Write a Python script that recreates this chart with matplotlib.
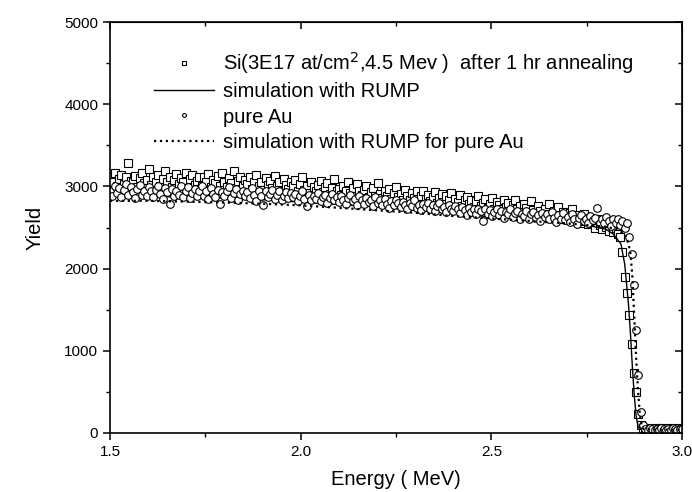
import matplotlib
matplotlib.use("Agg")
import matplotlib.pyplot as plt
import numpy as np
from matplotlib.ticker import MultipleLocator

plt.rcParams['font.family'] = ['Liberation Sans', 'DejaVu Sans']

# channel energies (MeV), linear calibration of the spectrum
energy = np.round(1.5 + 0.006 * np.arange(251), 3)

# Si implanted sample after annealing (squares)
si_yield = [
    3120, 3050, 3160, 3010, 3090, 3140, 3030, 3110, 3280, 3070,
    3060, 3130, 2990, 3100, 3170, 3040, 3080, 3210, 3020, 3110,
    3050, 3140, 3000, 3090, 3190, 3060, 3120, 2990, 3080, 3150,
    3030, 3100, 3060, 3170, 2980, 3090, 3140, 3020, 3070, 3120,
    3000, 3110, 3050, 3150, 2990, 3080, 3040, 3130, 3010, 3170,
    3060, 2990, 3100, 3040, 3190, 2980, 3070, 3120, 3010, 3080,
    3030, 3110, 2970, 3050, 3140, 3000, 3060, 2960, 3100, 3020,
    3070, 2980, 3130, 3010, 3050, 2950, 3090, 3020, 2970, 3060,
    3000, 3080, 2940, 3030, 3110, 2960, 3010, 2920, 3050, 2990,
    2950, 3020, 3070, 2930, 2990, 3040, 2910, 2980, 3090, 2940,
    2970, 2900, 3010, 2950, 3060, 2920, 2980, 2890, 3030, 2940,
    2900, 2960, 3000, 2870, 2930, 2980, 2880, 3040, 2910, 2860,
    2940, 2890, 2970, 2850, 2920, 2990, 2870, 2910, 2840, 2960,
    2880, 2830, 2920, 2860, 2950, 2810, 2890, 2940, 2850, 2900,
    2820, 2870, 2930, 2800, 2860, 2910, 2790, 2880, 2840, 2920,
    2780, 2850, 2810, 2900, 2760, 2830, 2870, 2790, 2840, 2750,
    2820, 2880, 2760, 2800, 2850, 2740, 2790, 2860, 2730, 2810,
    2770, 2720, 2840, 2750, 2800, 2700, 2780, 2830, 2720, 2760,
    2690, 2790, 2740, 2680, 2820, 2710, 2650, 2760, 2700, 2640,
    2730, 2670, 2790, 2620, 2700, 2660, 2750, 2610, 2690, 2640,
    2600, 2680, 2720, 2580, 2650, 2610, 2560, 2670, 2590, 2540,
    2620, 2560, 2500, 2600, 2530, 2480, 2580, 2510, 2460, 2550,
    2450, 2500, 2420, 2380, 2200, 1900, 1700, 1430, 1080, 730,
    500, 230, 100, 60, 45, 55, 40, 50, 35, 55,
    45, 60, 40, 50, 55, 35, 50, 45, 60, 40, 50,
]

# pure Au reference (circles)
au_yield = [
    2950, 2890, 3010, 2920, 2980, 2870, 2960, 3030, 2900, 2990,
    2930, 2860, 2970, 3020, 2900, 2950, 2880, 2990, 2940, 2870,
    2960, 3000, 2910, 2850, 2980, 2930, 2790, 2970, 2890, 2950,
    2900, 3010, 2870, 2940, 2990, 2860, 2920, 2970, 2880, 2940,
    3000, 2890, 2940, 2850, 2980, 2910, 2870, 2960, 2790, 2930,
    2880, 2950, 2990, 2860, 2920, 2970, 2840, 2910, 2950, 2880,
    2930, 2860, 2980, 2900, 2820, 2950, 2890, 2780, 2940, 2870,
    2910, 2960, 2850, 2900, 2940, 2830, 2890, 2930, 2860, 2920,
    2870, 2910, 2820, 2880, 2940, 2850, 2760, 2900, 2840, 2890,
    2850, 2920, 2820, 2870, 2900, 2800, 2860, 2910, 2830, 2870,
    2810, 2880, 2840, 2790, 2860, 2900, 2820, 2850, 2770, 2880,
    2830, 2790, 2860, 2810, 2840, 2760, 2870, 2800, 2830, 2780,
    2850, 2790, 2740, 2820, 2770, 2840, 2800, 2750, 2810, 2780,
    2720, 2800, 2760, 2830, 2740, 2780, 2710, 2790, 2750, 2800,
    2730, 2770, 2700, 2760, 2800, 2720, 2750, 2690, 2770, 2730,
    2700, 2760, 2720, 2680, 2750, 2710, 2650, 2740, 2690, 2720,
    2660, 2730, 2700, 2580, 2720, 2670, 2710, 2640, 2690, 2730,
    2650, 2700, 2620, 2690, 2660, 2720, 2630, 2680, 2700, 2610,
    2670, 2640, 2700, 2600, 2660, 2690, 2620, 2650, 2580, 2680,
    2630, 2660, 2600, 2690, 2620, 2570, 2650, 2610, 2680, 2590,
    2630, 2570, 2660, 2600, 2540, 2620, 2650, 2580, 2610, 2560,
    2640, 2590, 2620, 2740, 2560, 2600, 2550, 2630, 2580, 2520,
    2600, 2550, 2610, 2530, 2580, 2500, 2560, 2380, 2180, 1800,
    1250, 700, 250, 100, 50, 40, 55, 45, 35, 50,
    40, 55, 45, 35, 50, 40, 55, 45, 40, 50, 45,
]

# RUMP simulations
sim_e = [1.50, 1.60, 1.70, 1.80, 1.90, 2.00, 2.10, 2.20, 2.30, 2.40,
         2.50, 2.60, 2.70, 2.76, 2.80, 2.82, 2.84, 2.85, 2.86, 2.865,
         2.87, 2.875, 2.88, 2.885, 2.89, 2.90, 2.95, 3.00]
sim_y = [2880, 2880, 2870, 2860, 2840, 2810, 2780, 2750, 2710, 2670,
         2630, 2590, 2550, 2520, 2480, 2420, 2300, 2050, 1550, 1200,
         800, 450, 200, 80, 45, 40, 40, 40]

sim_au_e = [1.50, 1.60, 1.70, 1.80, 1.90, 2.00, 2.10, 2.20, 2.30, 2.40,
            2.50, 2.60, 2.70, 2.80, 2.83, 2.85, 2.86, 2.865, 2.87, 2.875,
            2.88, 2.885, 2.89, 2.895, 2.90, 2.95, 3.00]
sim_au_y = [2825, 2825, 2815, 2805, 2790, 2770, 2740, 2710, 2680, 2640,
            2610, 2580, 2550, 2510, 2480, 2420, 2300, 2180, 1900, 1400,
            900, 500, 200, 80, 45, 40, 40]

fig = plt.figure(figsize=(6.92, 4.92), dpi=100)
ax = fig.add_axes([0.159, 0.12, 0.8265, 0.835])

ax.plot(energy, si_yield, 's', ms=5.3, mfc='white', mec='black', mew=0.8,
        label='Si(3E17 at/cm$^2$,4.5 Mev )  after 1 hr annealing')
ax.plot(sim_e, sim_y, '-', color='black', lw=1.0, label='simulation with RUMP')
ax.plot(energy, au_yield, 'o', ms=5.5, mfc='white', mec='black', mew=0.8,
        label='pure Au')
ax.plot(sim_au_e, sim_au_y, ':', color='black', lw=1.6,
        label='simulation with RUMP for pure Au')

ax.set_xlim(1.5, 3.0)
ax.set_ylim(0, 5000)
ax.xaxis.set_major_locator(MultipleLocator(0.5))
ax.xaxis.set_minor_locator(MultipleLocator(0.25))
ax.yaxis.set_major_locator(MultipleLocator(1000))
ax.yaxis.set_minor_locator(MultipleLocator(500))
ax.xaxis.set_major_formatter(plt.FuncFormatter(lambda v, p: '%.1f' % v))
ax.tick_params(which='major', direction='out', length=5, width=1.1, labelsize=11)
ax.tick_params(which='minor', direction='out', length=3, width=1.0)
for s in ax.spines.values():
    s.set_linewidth(1.2)

top = ax.secondary_xaxis('top')
top.xaxis.set_major_locator(MultipleLocator(0.5))
top.xaxis.set_minor_locator(MultipleLocator(0.25))
top.tick_params(which='major', direction='in', length=5, width=1.1, labeltop=False)
top.tick_params(which='minor', direction='in', length=3, width=1.0)
right = ax.secondary_yaxis('right')
right.yaxis.set_major_locator(MultipleLocator(1000))
right.yaxis.set_minor_locator(MultipleLocator(500))
right.tick_params(which='major', direction='in', length=5, width=1.1, labelright=False)
right.tick_params(which='minor', direction='in', length=3, width=1.0)

ax.set_xlabel('Energy ( MeV)', fontsize=14.5, labelpad=8)
ax.set_ylabel('Yield', fontsize=14.5, labelpad=14)

leg = ax.legend(loc='upper left', bbox_to_anchor=(0.045, 0.975), frameon=False,
                fontsize=14.5, handlelength=3.0, handletextpad=0.45,
                labelspacing=0.3, markerscale=0.5)

fig.savefig('out.png', dpi=100)
